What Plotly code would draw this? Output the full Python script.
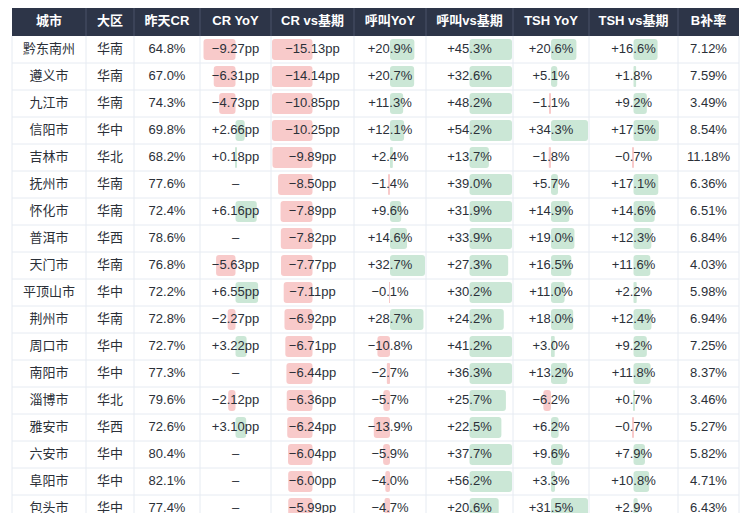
import plotly.graph_objects as go

# ---------------- data ----------------
cities = ["黔东南州", "遵义市", "九江市", "信阳市", "吉林市", "抚州市", "怀化市", "普洱市", "天门市",
          "平顶山市", "荆州市", "周口市", "南阳市", "淄博市", "雅安市", "六安市", "阜阳市", "包头市"]
regions = ["华南", "华南", "华南", "华中", "华北", "华南", "华南", "华西", "华南",
           "华中", "华南", "华中", "华中", "华北", "华西", "华中", "华中", "华中"]
cr_yesterday = [64.8, 67.0, 74.3, 69.8, 68.2, 77.6, 72.4, 78.6, 76.8,
                72.2, 72.8, 72.7, 77.3, 79.6, 72.6, 80.4, 82.1, 77.4]
cr_yoy = [-9.27, -6.31, -4.73, 2.66, 0.18, None, 6.16, None, -5.63,
          6.55, -2.27, 3.22, None, -2.12, 3.10, None, None, None]
cr_vs_base = [-15.13, -14.14, -10.85, -10.25, -9.89, -8.50, -7.89, -7.82, -7.77,
              -7.11, -6.92, -6.71, -6.44, -6.36, -6.24, -6.04, -6.00, -5.99]
call_yoy = [20.9, 20.7, 11.3, 12.1, 2.4, -1.4, 9.6, 14.6, 32.7,
            -0.1, 28.7, -10.8, -2.7, -5.7, -13.9, -5.9, -4.0, -4.7]
call_vs_base = [45.3, 32.6, 48.2, 54.2, 13.7, 39.0, 31.9, 33.9, 27.3,
                30.2, 24.2, 41.2, 36.3, 25.7, 22.5, 37.7, 56.2, 20.6]
tsh_yoy = [20.6, 5.1, -1.1, 34.3, -1.8, 5.7, 14.9, 19.0, 16.5,
           11.0, 18.0, 3.0, 13.2, -6.2, 6.2, 9.6, 3.3, 31.5]
tsh_vs_base = [16.6, 1.8, 9.2, 17.5, -0.7, 17.1, 14.6, 12.3, 11.6,
               2.2, 12.4, 9.2, 11.8, 0.7, -0.7, 7.9, 10.8, 2.9]
b_rate = [7.12, 7.59, 3.49, 8.54, 11.18, 6.36, 6.51, 6.84, 4.03,
          5.98, 6.94, 7.25, 8.37, 3.46, 5.27, 5.82, 4.71, 6.43]

headers = ["城市", "大区", "昨天CR", "CR YoY", "CR vs基期", "呼叫YoY", "呼叫vs基期", "TSH YoY", "TSH vs基期", "B补率"]

# ---------------- layout / style ----------------
PAGE_W, PAGE_H, PAGE_MARGIN = 752, 523, 8   # browser body has an 8px margin
COL_EDGES = [12, 86, 134, 200, 271, 354, 426, 513, 589, 678, 739]
TOP, HEAD_H, ROW_H, BAR_H, VIEW_BOTTOM = 8, 28, 27, 21, 513
FONT = "Liberation Sans, Arial, Noto Sans CJK SC, sans-serif"
TEXT_COLOR = "#2b3038"
RED, GREEN = "#f8caca", "#cbe7d6"
HEAD_BG, HEAD_SEP, GRID = "#2d3548", "#4a5368", "#e6ebf2"
MINUS = "\u2212"


def fmt_plain(v, dec, suffix):
    return f"{v:.{dec}f}{suffix}"


def fmt_signed(v, dec, suffix):
    if v is None:
        return "–"
    s = f"{v:+.{dec}f}{suffix}"
    return s.replace("-", MINUS)


# (values, formatter, bar domain or None)
columns = [
    (cities, lambda v: v, None),
    (regions, lambda v: v, None),
    (cr_yesterday, lambda v: fmt_plain(v, 1, "%"), None),
    (cr_yoy, lambda v: fmt_signed(v, 2, "pp"), 10.0),
    (cr_vs_base, lambda v: fmt_signed(v, 2, "pp"), 10.0),
    (call_yoy, lambda v: fmt_signed(v, 1, "%"), 30.0),
    (call_vs_base, lambda v: fmt_signed(v, 1, "%"), 30.0),
    (tsh_yoy, lambda v: fmt_signed(v, 1, "%"), 30.0),
    (tsh_vs_base, lambda v: fmt_signed(v, 1, "%"), 30.0),
    (b_rate, lambda v: fmt_plain(v, 2, "%"), None),
]

n_rows = len(cities)
row_y = [TOP + HEAD_H + (i + 0.5) * ROW_H for i in range(n_rows)]
table_bottom = TOP + HEAD_H + n_rows * ROW_H

fig = go.Figure()

# data bars
bars = {"neg": {"y": [], "x": [], "base": []}, "pos": {"y": [], "x": [], "base": []}}
for ci, (vals, _, domain) in enumerate(columns):
    if domain is None:
        continue
    x0, x1 = COL_EDGES[ci], COL_EDGES[ci + 1]
    zero = (x0 + x1) / 2
    max_len = (x1 - x0) / 2 - 1
    for i, v in enumerate(vals):
        if v is None:
            continue
        length = min(abs(v) / domain, 1.0) * max_len
        key = "neg" if v < 0 else "pos"
        bars[key]["y"].append(row_y[i])
        bars[key]["x"].append(-length if v < 0 else length)
        bars[key]["base"].append(zero)

for key, color in (("neg", RED), ("pos", GREEN)):
    fig.add_trace(go.Bar(
        orientation="h", y=bars[key]["y"], x=bars[key]["x"], base=bars[key]["base"],
        width=BAR_H, marker=dict(color=color, line=dict(width=0), cornerradius=3),
        hoverinfo="skip", showlegend=False,
    ))

# body text
tx, ty, tt = [], [], []
for ci, (vals, f, _) in enumerate(columns):
    cx = (COL_EDGES[ci] + COL_EDGES[ci + 1]) / 2
    for i, v in enumerate(vals):
        tx.append(cx)
        ty.append(row_y[i])
        tt.append(f(v))
fig.add_trace(go.Scatter(
    x=tx, y=ty, text=tt, mode="text", textposition="middle center",
    textfont=dict(family=FONT, size=13, color=TEXT_COLOR),
    hoverinfo="skip", showlegend=False, cliponaxis=True,
))

# header text
hx = [(COL_EDGES[i] + COL_EDGES[i + 1]) / 2 for i in range(len(headers))]
fig.add_trace(go.Scatter(
    x=hx, y=[TOP + HEAD_H / 2] * len(headers), text=[f"<b>{h}</b>" for h in headers],
    mode="text", textposition="middle center",
    textfont=dict(family=FONT, size=13, color="#ffffff"),
    hoverinfo="skip", showlegend=False,
))

# table decoration shapes
shapes = [dict(type="rect", xref="x", yref="y", x0=COL_EDGES[0], x1=COL_EDGES[-1],
               y0=TOP, y1=TOP + HEAD_H, fillcolor=HEAD_BG, line=dict(width=0), layer="below")]
for e in COL_EDGES[1:-1]:
    shapes.append(dict(type="line", xref="x", yref="y", x0=e, x1=e, y0=TOP, y1=TOP + HEAD_H,
                       line=dict(color=HEAD_SEP, width=1), layer="below"))
for e in COL_EDGES:
    shapes.append(dict(type="line", xref="x", yref="y", x0=e, x1=e, y0=TOP + HEAD_H, y1=table_bottom,
                       line=dict(color=GRID, width=1), layer="below"))
for i in range(1, n_rows + 1):
    yb = TOP + HEAD_H + i * ROW_H
    shapes.append(dict(type="line", xref="x", yref="y", x0=COL_EDGES[0], x1=COL_EDGES[-1], y0=yb, y1=yb,
                       line=dict(color=GRID, width=1), layer="below"))

# figure sits at (8, 8) on the page; axis units equal page pixels
fig_w = PAGE_W - 2 * PAGE_MARGIN
fig_h = PAGE_H - 2 * PAGE_MARGIN
fig.update_layout(
    width=fig_w, height=fig_h,
    margin=dict(l=0, r=0, t=0, b=(PAGE_MARGIN + fig_h) - VIEW_BOTTOM),
    paper_bgcolor="white", plot_bgcolor="white", barmode="overlay",
    shapes=shapes, showlegend=False,
    xaxis=dict(range=[PAGE_MARGIN, PAGE_MARGIN + fig_w], visible=False, fixedrange=True),
    yaxis=dict(range=[VIEW_BOTTOM, PAGE_MARGIN], visible=False, fixedrange=True),
    font=dict(family=FONT),
)

fig.write_html("out.html", config={"displayModeBar": False})
